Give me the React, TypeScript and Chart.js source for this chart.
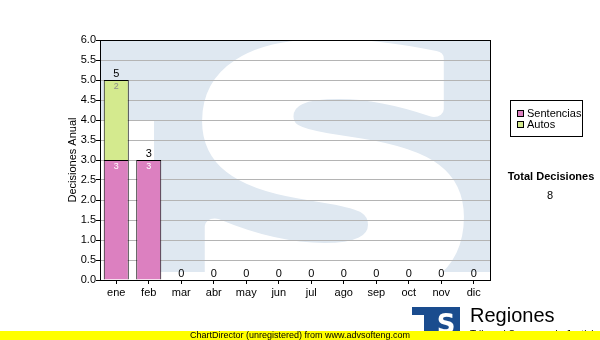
import React, { useEffect, useRef } from "react";
import { Chart, registerables } from "chart.js";

Chart.register(...registerables);

const categories = ["ene", "feb", "mar", "abr", "may", "jun", "jul", "ago", "sep", "oct", "nov", "dic"];
const sentencias = [3, 3, 0, 0, 0, 0, 0, 0, 0, 0, 0, 0];
const autos = [2, 0, 0, 0, 0, 0, 0, 0, 0, 0, 0, 0];
const seriesNames = ["Sentencias", "Autos"];
const seriesColors = ["#dc80c0", "#d4ea8e"];
const innerLabelColors = ["#ffffff", "#8c8c8c"];
const yMin = 0;
const yMax = 6;
const yStep = 0.5;
const yTitle = "Decisiones Anual";
const totalTitle = "Total Decisiones";
const footerText = "ChartDirector (unregistered) from www.advsofteng.com";
const logoTitle = "Regiones";
const logoSubtitle = "Tribunal Supremo de Justicia";

const FONT = "'Liberation Sans', Arial, sans-serif";

const watermarkPlugin = {
  id: "watermark",
  beforeDraw(chart: any) {
    const { ctx, chartArea: ca } = chart;
    ctx.save();
    ctx.fillStyle = "#dfe8f1";
    const bottom = ca.bottom - 8;
    ctx.beginPath();
    ctx.moveTo(ca.left, ca.top);
    ctx.lineTo(ca.right, ca.top);
    ctx.lineTo(ca.right, bottom);
    ctx.lineTo(ca.left + 54, bottom);
    ctx.lineTo(ca.left + 54, ca.top + 80);
    ctx.lineTo(ca.left, ca.top + 80);
    ctx.closePath();
    ctx.fill();
    ctx.beginPath();
    ctx.rect(ca.left, ca.top, ca.right - ca.left, ca.bottom - ca.top);
    ctx.clip();
    // big white S
    ctx.font = "bold 300px 'DejaVu Sans', sans-serif";
    const m = ctx.measureText("S");
    const gw = m.actualBoundingBoxLeft + m.actualBoundingBoxRight;
    const gh = m.actualBoundingBoxAscent + m.actualBoundingBoxDescent;
    const tx0 = ca.left + 108, tx1 = ca.left + 358;
    const ty0 = ca.top + 4, ty1 = ca.top + 256;
    ctx.translate(tx0, ty0);
    ctx.scale((tx1 - tx0) / gw, (ty1 - ty0) / gh);
    ctx.fillStyle = "#ffffff";
    ctx.strokeStyle = "#ffffff";
    ctx.lineWidth = 14;
    ctx.lineJoin = "round";
    ctx.textBaseline = "alphabetic";
    ctx.textAlign = "left";
    ctx.fillText("S", m.actualBoundingBoxLeft, m.actualBoundingBoxAscent);
    ctx.strokeText("S", m.actualBoundingBoxLeft, m.actualBoundingBoxAscent);
    ctx.restore();
  },
};

const decorPlugin = {
  id: "decor",
  afterDatasetsDraw(chart: any) {
    const { ctx, chartArea: ca } = chart;
    const yScale = chart.scales.y;
    ctx.save();
    // inner segment labels
    ctx.textAlign = "center";
    ctx.textBaseline = "middle";
    ctx.font = `9px ${FONT}`;
    chart.data.datasets.forEach((ds: any, di: number) => {
      const meta = chart.getDatasetMeta(di);
      meta.data.forEach((el: any, i: number) => {
        const v = ds.data[i];
        if (v > 0) {
          ctx.fillStyle = innerLabelColors[di];
          ctx.fillText(String(v), el.x, el.y + 7);
        }
      });
    });
    // totals
    ctx.font = `11px ${FONT}`;
    ctx.fillStyle = "#000";
    const meta0 = chart.getDatasetMeta(0);
    categories.forEach((_, i) => {
      let sum = 0;
      chart.data.datasets.forEach((ds: any) => (sum += ds.data[i]));
      const y = yScale.getPixelForValue(sum);
      ctx.fillText(String(sum), meta0.data[i].x, y - 6.5);
    });
    // frame
    ctx.strokeStyle = "#000";
    ctx.lineWidth = 1;
    ctx.strokeRect(Math.round(ca.left) + 0.5, Math.round(ca.top) + 0.5, Math.round(ca.right - ca.left), Math.round(ca.bottom - ca.top));
    ctx.restore();
  },
  afterDraw(chart: any) {
    const { ctx } = chart;
    ctx.save();
    // legend box
    ctx.fillStyle = "#fff";
    ctx.fillRect(510, 100, 72, 36);
    ctx.strokeStyle = "#000";
    ctx.lineWidth = 1;
    ctx.strokeRect(510.5, 100.5, 72, 36);
    ctx.font = `11px ${FONT}`;
    ctx.textBaseline = "middle";
    ctx.textAlign = "left";
    chart.data.datasets.forEach((ds: any, di: number) => {
      const y = 110 + di * 11;
      ctx.fillStyle = ds.backgroundColor;
      ctx.fillRect(517, y, 7, 7);
      ctx.strokeStyle = "#000";
      ctx.strokeRect(517.5, y + 0.5, 6, 6);
      ctx.fillStyle = "#000";
      ctx.fillText(ds.label, 527, y + 3.5);
    });
    // total
    let total = 0;
    chart.data.datasets.forEach((ds: any) => ds.data.forEach((v: number) => (total += v)));
    ctx.textAlign = "center";
    ctx.font = `bold 11px ${FONT}`;
    ctx.fillText(totalTitle, 551, 177);
    ctx.font = `11px ${FONT}`;
    ctx.fillText(String(total), 550, 196);
    // logo
    ctx.fillStyle = "#1a4c8e";
    ctx.fillRect(412, 307, 48, 24);
    ctx.fillStyle = "#fff";
    ctx.fillRect(412, 315, 12, 16);
    ctx.font = `bold 26px 'DejaVu Sans', sans-serif`;
    ctx.textBaseline = "alphabetic";
    ctx.fillText("S", 446, 333);
    ctx.fillStyle = "#000";
    ctx.textAlign = "left";
    ctx.font = `20px ${FONT}`;
    ctx.fillText(logoTitle, 470, 322);
    ctx.font = `10px ${FONT}`;
    ctx.textBaseline = "top";
    ctx.fillText(logoSubtitle, 470, 330);
    // footer
    ctx.fillStyle = "#ffff00";
    ctx.fillRect(0, 331, 600, 9);
    ctx.fillStyle = "#000";
    ctx.textAlign = "center";
    ctx.textBaseline = "middle";
    ctx.font = `9px ${FONT}`;
    ctx.fillText(footerText, 300, 336);
    ctx.restore();
  },
};

export default function App() {
  const ref = useRef<HTMLCanvasElement | null>(null);
  useEffect(() => {
    if (!ref.current) return;
    Chart.defaults.color = "#000";
    const chart = new Chart(ref.current, {
      type: "bar",
      data: {
        labels: categories,
        datasets: [
          {
            label: seriesNames[0],
            data: sentencias,
            backgroundColor: seriesColors[0],
            borderColor: "#000",
            borderWidth: 1,
            barPercentage: 0.77,
            categoryPercentage: 1,
          },
          {
            label: seriesNames[1],
            data: autos,
            backgroundColor: seriesColors[1],
            borderColor: "#000",
            borderWidth: 1,
            barPercentage: 0.77,
            categoryPercentage: 1,
          },
        ],
      },
      options: {
        animation: false,
        responsive: false,
        devicePixelRatio: 1,
        layout: { padding: { left: 66, right: 110, top: 40, bottom: 0 } },
        plugins: { legend: { display: false }, tooltip: { enabled: false } },
        scales: {
          x: {
            stacked: true,
            afterFit: (s: any) => {
              s.height = 60;
            },
            grid: { display: true, drawOnChartArea: false, drawTicks: true, tickLength: 4, tickColor: "#000", offset: false },
            border: { display: true, color: "#000" },
            ticks: { color: "#000", padding: 2, font: { family: FONT, size: 11 } },
          },
          y: {
            stacked: true,
            min: yMin,
            max: yMax,
            afterFit: (s: any) => {
              s.width = 34;
            },
            ticks: {
              stepSize: yStep,
              padding: 0,
              color: "#000",
              font: { family: FONT, size: 11 },
              callback: (v: any) => Number(v).toFixed(1),
            },
            grid: { color: "#b4b4b4", tickColor: "#000", tickLength: 4, drawTicks: true },
            border: { display: true, color: "#000" },
            title: { display: true, text: yTitle, color: "#000", padding: 0, font: { family: FONT, size: 11 } },
          },
        },
      },
      plugins: [watermarkPlugin, decorPlugin],
    });
    return () => chart.destroy();
  }, []);
  return (
    <div style={{ position: "fixed", left: 0, top: 0, width: 600, height: 340, background: "#fff" }}>
      <canvas ref={ref} width={600} height={340} style={{ width: 600, height: 340, display: "block" }} />
    </div>
  );
}
